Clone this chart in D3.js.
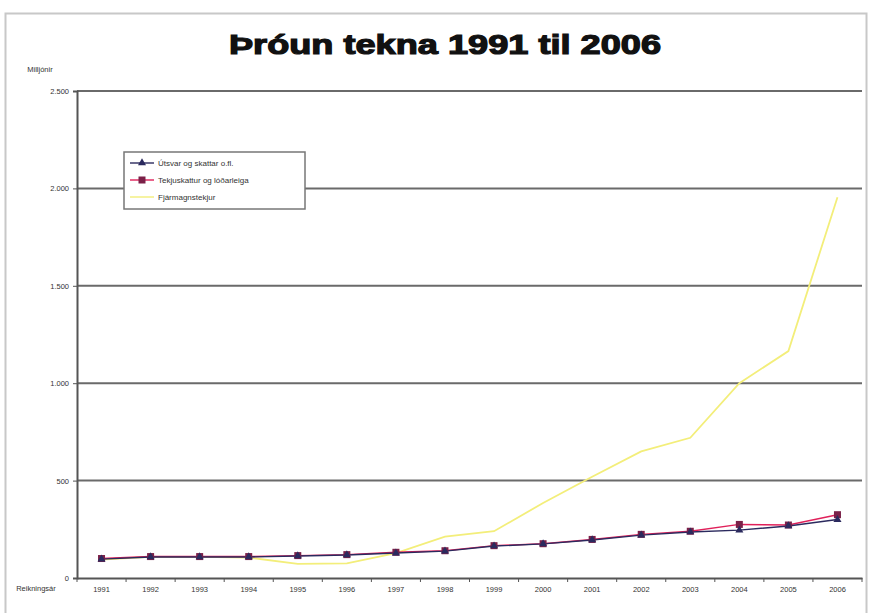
<!DOCTYPE html>
<html><head><meta charset="utf-8">
<script src="https://cdn.jsdelivr.net/npm/d3@7"></script>
<style>body{margin:0;background:#fff}svg{display:block}</style>
</head><body><svg id="c" width="869" height="613"></svg>
<script>
const years = ["1991","1992","1993","1994","1995","1996","1997","1998","1999","2000","2001","2002","2003","2004","2005","2006"];
const yTicks = [0,500,1000,1500,2000,2500];
const seriesNames = ["Útsvar og skattar o.fl.","Tekjuskattur og lóðarleiga","Fjármagnstekjur"];
const seriesA = [97,108,108,108,113,118,128,138,164,175,195,220,236,246,267,300];
const seriesB = [100,110,110,110,115,120,132,140,166,176,198,224,240,275,272,325];
const seriesC = [95,108,108,105,72,75,128,212,240,385,520,650,720,1000,1165,1955];
const title = "Þróun tekna 1991 til 2006";
const yTitle = "Milljónir";
const xTitle = "Reikningsár";

const svg = d3.select("#c");
const W=869,H=613;
const L=77,R=862,T=91,B=578;
svg.append("rect").attr("x",5.5).attr("y",13.5).attr("width",W-8).attr("height",H-10)
  .attr("fill","#fff").attr("stroke","#c8c8c8").attr("stroke-width",2);

svg.append("text").attr("x",445).attr("y",54).attr("text-anchor","middle")
  .attr("font-family","Liberation Sans, Arial, sans-serif").attr("font-weight","bold")
  .attr("font-size",27).attr("fill","#111").attr("stroke","#111").attr("stroke-width",1.2)
  .attr("textLength",432).attr("lengthAdjust","spacingAndGlyphs").text(title);

const x = d3.scaleBand().domain(years).range([L,R]);
const y = d3.scaleLinear().domain([0,2500]).range([B,T]);
const g = svg.append("g");
g.selectAll("line.grid").data(yTicks.filter(d=>d>0)).join("line")
  .attr("x1",L).attr("x2",R).attr("y1",d=>y(d)).attr("y2",d=>y(d))
  .attr("stroke","#6a6a6a").attr("stroke-width",2);
const fmt = d => d3.format(",")(d).replace(/,/g,".");
const ya = svg.append("g").attr("transform",`translate(${L},0)`)
  .call(d3.axisLeft(y).tickValues(yTicks).tickFormat(fmt).tickSize(4).tickPadding(4));
ya.select(".domain").attr("stroke","#555").attr("stroke-width",2);
ya.selectAll(".tick line").attr("stroke","#555");
ya.selectAll("text").attr("font-family","Liberation Sans, Arial, sans-serif").attr("font-size",7.5).attr("fill","#333");
const xa = svg.append("g").attr("transform",`translate(0,${B})`)
  .call(d3.axisBottom(x).tickSize(0).tickPadding(9));
xa.select(".domain").attr("stroke","#555").attr("stroke-width",2);
xa.selectAll("text").attr("font-family","Liberation Sans, Arial, sans-serif").attr("font-size",7.5).attr("fill","#333");
xa.selectAll("line.sep").data(d3.range(years.length+1)).join("line").attr("class","sep")
  .attr("x1",i=>L+i*x.step()).attr("x2",i=>L+i*x.step()).attr("y1",0).attr("y2",4).attr("stroke","#555");

svg.append("text").attr("x",40).attr("y",72).attr("text-anchor","middle")
  .attr("font-family","Liberation Sans, Arial, sans-serif").attr("font-size",7.5).attr("fill","#333").text(yTitle);
svg.append("text").attr("x",36).attr("y",591).attr("text-anchor","middle")
  .attr("font-family","Liberation Sans, Arial, sans-serif").attr("font-size",7.5).attr("fill","#333").text(xTitle);

const cx = d => x(d)+x.bandwidth()/2;
const line = d3.line().x((d,i)=>cx(years[i])).y(d=>y(d));
const cols = ["#2b2a5e","#e0205a","#f3ee7a"];
const data = [seriesA,seriesB,seriesC];
[2,1,0].forEach(k=>{
  svg.append("path").datum(data[k]).attr("d",line).attr("fill","none")
    .attr("stroke",cols[k]).attr("stroke-width",k===2?1.8:1.4);
});
svg.selectAll("rect.mb").data(seriesB).join("rect").attr("class","mb")
  .attr("x",(d,i)=>cx(years[i])-3.5).attr("y",d=>y(d)-3.5).attr("width",7).attr("height",7)
  .attr("fill","#7a2048");
const tri = d3.symbol().type(d3.symbolTriangle).size(28);
svg.selectAll("path.ma").data(seriesA).join("path").attr("class","ma")
  .attr("transform",(d,i)=>`translate(${cx(years[i])},${y(d)})`).attr("d",tri).attr("fill","#2b2a5e");

const lg = svg.append("g").attr("transform","translate(124,152)");
lg.append("rect").attr("width",181).attr("height",57).attr("fill","#fff").attr("stroke","#777").attr("stroke-width",1.5);
seriesNames.forEach((n,i)=>{
  const yy = 11+i*17;
  lg.append("line").attr("x1",6).attr("x2",30).attr("y1",yy).attr("y2",yy).attr("stroke",cols[i]).attr("stroke-width",1.4);
  if(i===0) lg.append("path").attr("transform",`translate(18,${yy})`).attr("d",tri).attr("fill",cols[0]);
  if(i===1) lg.append("rect").attr("x",14.5).attr("y",yy-3.5).attr("width",7).attr("height",7).attr("fill","#7a2048");
  lg.append("text").attr("x",34).attr("y",yy+3).attr("font-family","Liberation Sans, Arial, sans-serif")
    .attr("font-size",8).attr("fill","#333").text(n);
});
</script></body></html>
